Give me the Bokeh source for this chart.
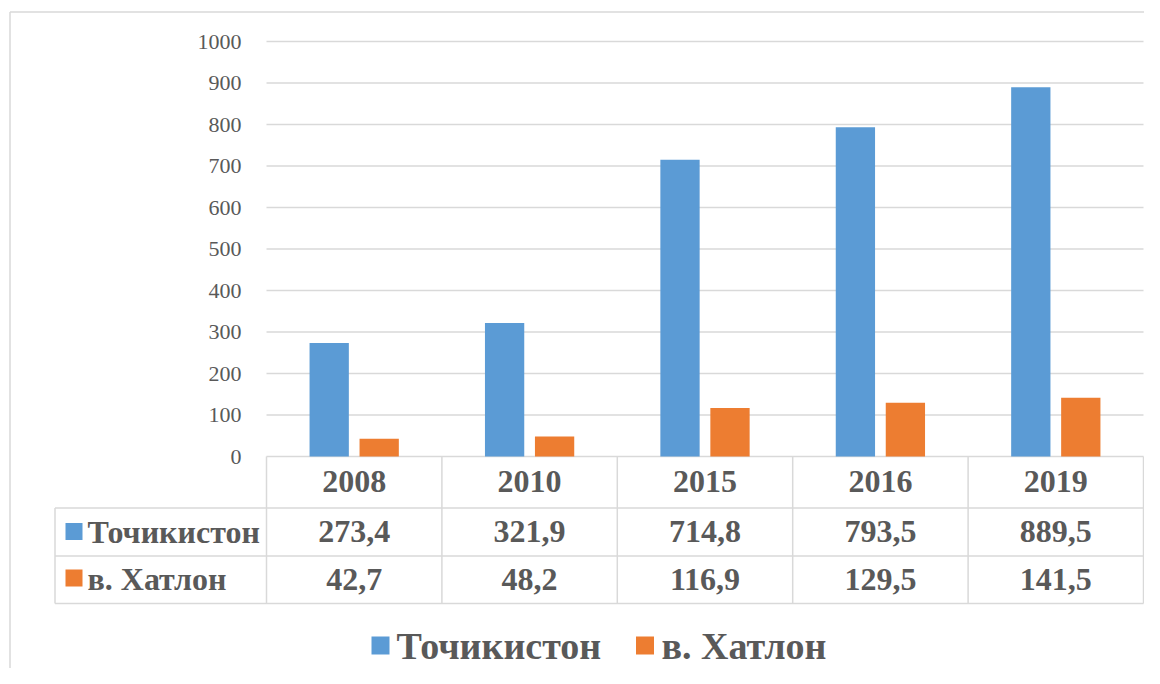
from bokeh.plotting import figure
from bokeh.models import Range1d, ColumnDataSource
from bokeh.transform import dodge
from bokeh.core.properties import value
from bokeh.embed import file_html
from bokeh.resources import INLINE

# ---- data ----
years = ["2008", "2010", "2015", "2016", "2019"]
tojikiston = [273.4, 321.9, 714.8, 793.5, 889.5]
khatlon = [42.7, 48.2, 116.9, 129.5, 141.5]
series_names = ["Точикистон", "в. Хатлон"]
series_colors = ["#5b9bd5", "#ed7d31"]
y_ticks = [0, 100, 200, 300, 400, 500, 600, 700, 800, 900, 1000]

W, H = 1144, 668
FONT = value("Liberation Serif")
GRAY = "#595959"
LINE = "#d9d9d9"

p = figure(width=W, height=H, output_backend="svg", toolbar_location=None,
           x_range=Range1d(-2.0165, 4.5057), y_range=Range1d(-510.8, 1098.8),
           x_axis_location=None, y_axis_location=None, min_border=0)
p.outline_line_color = None
p.background_fill_color = "white"
p.border_fill_color = "white"
p.xgrid.visible = False
p.ygrid.visible = False
p.extra_x_ranges = {"px": Range1d(0, W)}
p.extra_y_ranges = {"px": Range1d(H, 0)}

idx = list(range(len(years)))
src = ColumnDataSource(dict(x=idx, year=years, a=tojikiston, b=khatlon,
                            a_lbl=[f"{v:.1f}".replace(".", ",") for v in tojikiston],
                            b_lbl=[f"{v:.1f}".replace(".", ",") for v in khatlon]))

# outer chart border
p.segment(x0=[9.5, 9.5], y0=[11.5, 11.5], x1=[W, 9.5], y1=[11.5, H],
          x_range_name="px", y_range_name="px", line_color=LINE, line_width=1.5)

# gridlines
n = len(years)
p.segment(x0=[-0.5] * len(y_ticks), x1=[n - 0.5] * len(y_ticks), y0=y_ticks, y1=y_ticks,
          line_color=LINE, line_width=1.5)

# y tick labels
p.text(x=[241] * len(y_ticks), y=y_ticks, text=[str(t) for t in y_ticks],
       x_range_name="px", text_font=FONT, text_font_size="22px", text_color=GRAY,
       text_align="right", text_baseline="middle")

# bars
p.vbar(x=dodge("x", -0.1425), top="a", width=0.224, source=src,
       fill_color=series_colors[0], line_color=None)
p.vbar(x=dodge("x", 0.1425), top="b", width=0.224, source=src,
       fill_color=series_colors[1], line_color=None)

# data table
row_lines = [507.5, 555.5, 603]
p.segment(x0=[54.5] * 3, x1=[1143] * 3, y0=row_lines, y1=row_lines,
          x_range_name="px", y_range_name="px", line_color=LINE, line_width=1.5)
p.segment(x0=[54.5], x1=[54.5], y0=[507.5], y1=[603],
          x_range_name="px", y_range_name="px", line_color=LINE, line_width=1.5)
bounds = [i - 0.5 for i in range(n + 1)]
p.segment(x0=bounds, x1=bounds, y0=[456] * len(bounds), y1=[603] * len(bounds),
          y_range_name="px", line_color=LINE, line_width=1.5)

p.text(x="x", y=480.5, text="year", source=src, y_range_name="px",
       text_font=FONT, text_font_size="32px", text_font_style="bold", text_color=GRAY,
       text_align="center", text_baseline="middle")
p.text(x="x", y=531, text="a_lbl", source=src, y_range_name="px",
       text_font=FONT, text_font_size="32px", text_font_style="bold", text_color=GRAY,
       text_align="center", text_baseline="middle")
p.text(x="x", y=578.5, text="b_lbl", source=src, y_range_name="px",
       text_font=FONT, text_font_size="32px", text_font_style="bold", text_color=GRAY,
       text_align="center", text_baseline="middle")

# table row keys
p.rect(x=[73.5, 73.5], y=[531, 577.5], width=17, height=17, x_range_name="px",
       y_range_name="px", fill_color=series_colors, line_color=None)
p.text(x=[87, 87], y=[531, 578.5], text=series_names, x_range_name="px",
       y_range_name="px", text_font=FONT, text_font_size="32px", text_font_style="bold",
       text_color=GRAY, text_align="left", text_baseline="middle")

# legend
p.rect(x=[380, 644.5], y=[645, 645], width=18, height=18, x_range_name="px",
       y_range_name="px", fill_color=series_colors, line_color=None)
p.text(x=[396, 661], y=[645.5, 645.5], text=series_names, x_range_name="px",
       y_range_name="px", text_font=FONT, text_font_size="38px", text_font_style="bold",
       text_color=GRAY, text_align="left", text_baseline="middle")

open("out.html", "w").write(file_html(p, INLINE))
